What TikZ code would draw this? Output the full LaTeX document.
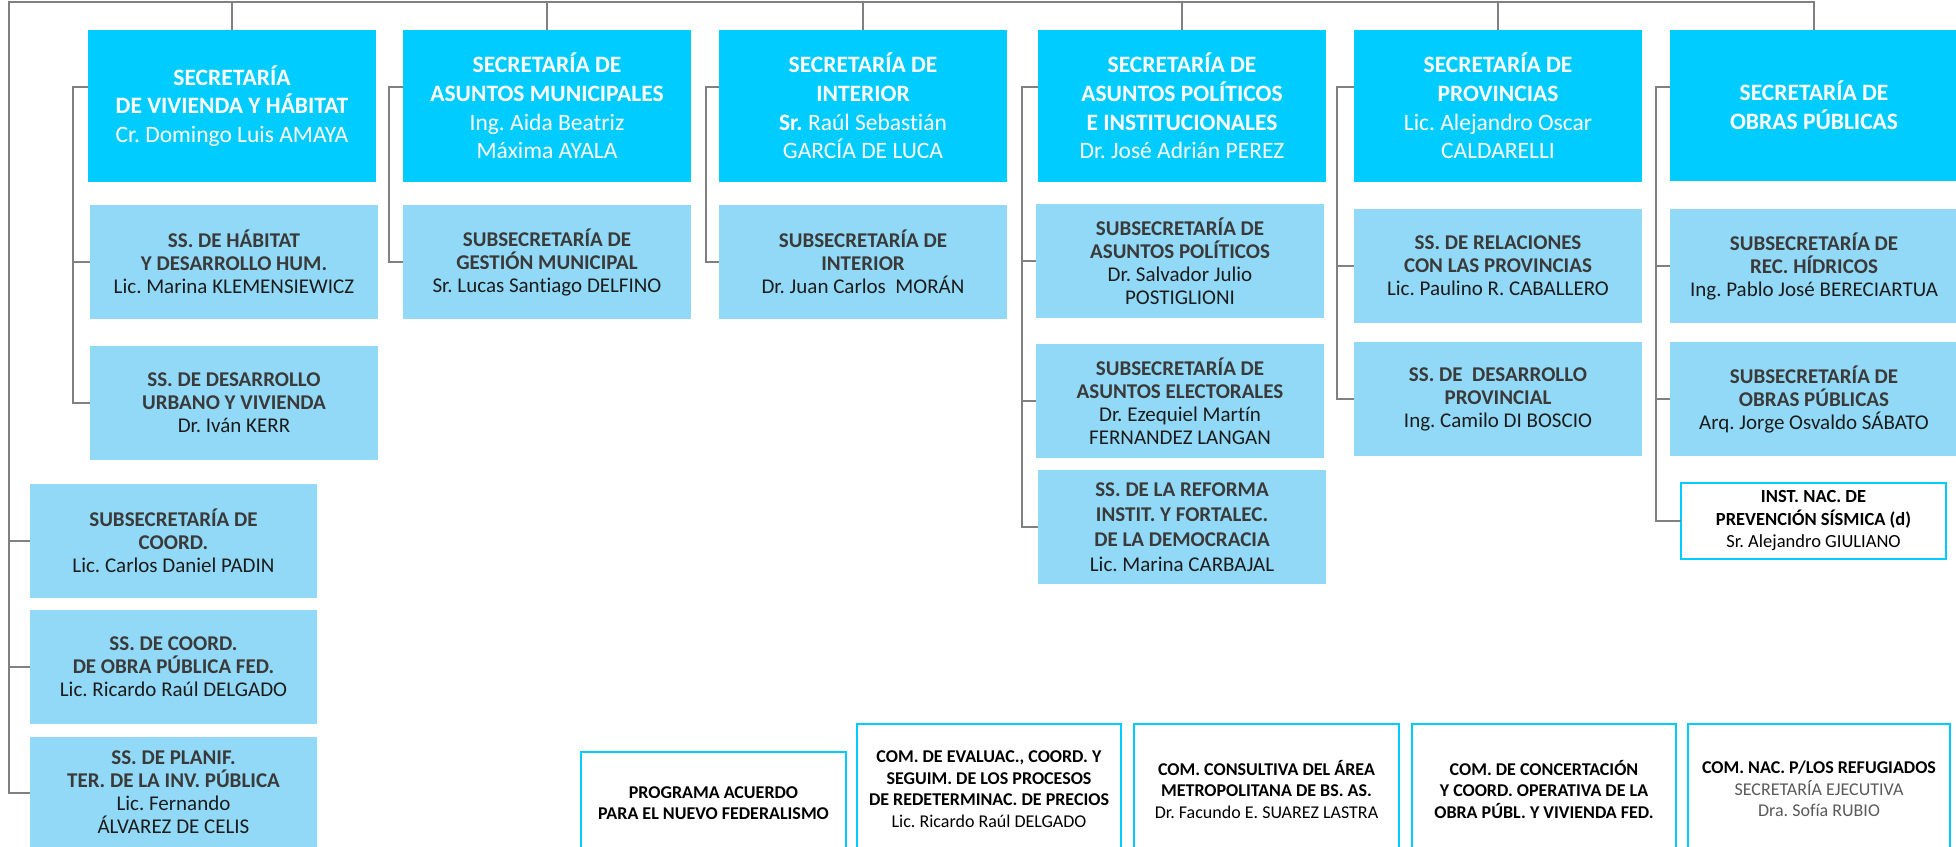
\documentclass[tikz,border=0pt]{standalone}
\usepackage{fontspec}
\setmainfont{Carlito}[Ligatures=NoCommon]
\frenchspacing
\definecolor{topc}{HTML}{00CCFF}
\definecolor{subc}{HTML}{91D9F7}
\definecolor{linec}{HTML}{808080}
\definecolor{titc}{HTML}{3A3A3A}
\definecolor{namec}{HTML}{1C1C1C}
\definecolor{grayt}{HTML}{5A5A5A}
\begin{document}
\begin{tikzpicture}[x=1pt,y=-1pt,
  every node/.style={inner sep=0pt, outer sep=0pt, align=center, anchor=north west},
  topbox/.style={fill=topc, text=white, font=\fontsize{23.5}{28.6}\selectfont,
    minimum width=288, minimum height=152},
  subbox/.style={fill=subc, text=namec, font=\fontsize{21}{23}\selectfont,
    minimum width=288, minimum height=114},
  combox/.style={draw=topc, line width=2.5pt, fill=white, text=black,
    font=\fontsize{18}{21.5}\selectfont, minimum height=130},
  conn/.style={draw=linec, line width=2pt}]
\useasboundingbox (0,0) rectangle (1956,846);

% top row
\node[topbox] (b1) at (88,30) {\textbf{SECRETARÍA}\\\textbf{DE VIVIENDA Y HÁBITAT}\\Cr. Domingo Luis AMAYA};
\node[topbox] (b2) at (403,30) {\textbf{SECRETARÍA DE}\\\textbf{ASUNTOS MUNICIPALES}\\Ing. Aida Beatriz\\Máxima AYALA};
\node[topbox] (b3) at (719,30) {\textbf{SECRETARÍA DE}\\\textbf{INTERIOR}\\\textbf{Sr.} Raúl Sebastián\\GARCÍA DE LUCA};
\node[topbox] (b4) at (1038,30) {\textbf{SECRETARÍA DE}\\\textbf{ASUNTOS POLÍTICOS}\\\textbf{E INSTITUCIONALES}\\Dr. José Adrián PEREZ};
\node[topbox] (b5) at (1354,30) {\textbf{SECRETARÍA DE}\\\textbf{PROVINCIAS}\\Lic. Alejandro Oscar\\CALDARELLI};
\node[topbox, minimum height=151] (b6) at (1670,30) {\textbf{SECRETARÍA DE}\\\textbf{OBRAS PÚBLICAS}};

% sub boxes
\node[subbox] (s11) at (90,205) {\textcolor{titc}{\textbf{SS. DE HÁBITAT}}\\\textcolor{titc}{\textbf{Y DESARROLLO HUM.}}\\Lic. Marina KLEMENSIEWICZ};
\node[subbox] (s12) at (90,346) {\textcolor{titc}{\textbf{SS. DE DESARROLLO}}\\\textcolor{titc}{\textbf{URBANO Y VIVIENDA}}\\Dr. Iván KERR};
\node[subbox] (s21) at (403,205) {\textcolor{titc}{\textbf{SUBSECRETARÍA DE}}\\\textcolor{titc}{\textbf{GESTIÓN MUNICIPAL}}\\Sr. Lucas Santiago DELFINO};
\node[subbox] (s31) at (719,205) {\textcolor{titc}{\textbf{SUBSECRETARÍA DE}}\\\textcolor{titc}{\textbf{INTERIOR}}\\Dr. Juan Carlos~ MORÁN};
\node[subbox] (s41) at (1036,204) {\textcolor{titc}{\textbf{SUBSECRETARÍA DE}}\\\textcolor{titc}{\textbf{ASUNTOS POLÍTICOS}}\\Dr. Salvador Julio\\POSTIGLIONI};
\node[subbox] (s42) at (1036,344) {\textcolor{titc}{\textbf{SUBSECRETARÍA DE}}\\\textcolor{titc}{\textbf{ASUNTOS ELECTORALES}}\\Dr. Ezequiel Martín\\FERNANDEZ LANGAN};
\node[subbox, font=\fontsize{21}{25}\selectfont] (s43) at (1038,470) {\textcolor{titc}{\textbf{SS. DE LA REFORMA}}\\\textcolor{titc}{\textbf{INSTIT. Y FORTALEC.}}\\\textcolor{titc}{\textbf{DE LA DEMOCRACIA}}\\Lic. Marina CARBAJAL};
\node[subbox] (s51) at (1354,209) {\textcolor{titc}{\textbf{SS. DE RELACIONES}}\\\textcolor{titc}{\textbf{CON LAS PROVINCIAS}}\\Lic. Paulino R. CABALLERO};
\node[subbox] (s52) at (1354,342) {\textcolor{titc}{\textbf{SS. DE~ DESARROLLO}}\\\textcolor{titc}{\textbf{PROVINCIAL}}\\Ing. Camilo DI BOSCIO};
\node[subbox] (s61) at (1670,209) {\textcolor{titc}{\textbf{SUBSECRETARÍA DE}}\\\textcolor{titc}{\textbf{REC. HÍDRICOS}}\\Ing. Pablo José BERECIARTUA};
\node[subbox] (s62) at (1670,342) {\textcolor{titc}{\textbf{SUBSECRETARÍA DE}}\\\textcolor{titc}{\textbf{OBRAS PÚBLICAS}}\\Arq. Jorge Osvaldo SÁBATO};
\node[combox, font=\fontsize{18.5}{22.5}\selectfont, minimum width=265, minimum height=76] (s63) at (1681,483) {\textbf{INST. NAC. DE}\\\textbf{PREVENCIÓN SÍSMICA (d)}\\Sr. Alejandro GIULIANO};

% left column
\node[subbox, minimum width=287] (p1) at (30,484) {\textcolor{titc}{\textbf{SUBSECRETARÍA DE}}\\\textcolor{titc}{\textbf{COORD.}}\\Lic. Carlos Daniel PADIN};
\node[subbox, minimum width=287] (p2) at (30,610) {\textcolor{titc}{\textbf{SS. DE COORD.}}\\\textcolor{titc}{\textbf{DE OBRA PÚBLICA FED.}}\\Lic. Ricardo Raúl DELGADO};
\node[subbox, minimum width=287, minimum height=111] (p3) at (30,737) {\textcolor{titc}{\textbf{SS. DE PLANIF.}}\\\textcolor{titc}{\textbf{TER. DE LA INV. PÚBLICA}}\\Lic. Fernando\\ÁLVAREZ DE CELIS};

% committees
\node[combox, minimum width=265, minimum height=102] (c1) at (581,752) {\textbf{PROGRAMA ACUERDO}\\\textbf{PARA EL NUEVO FEDERALISMO}};
\node[combox, minimum width=264] (c2) at (857,724) {\textbf{COM. DE EVALUAC., COORD. Y}\\\textbf{SEGUIM. DE LOS PROCESOS}\\\textbf{DE REDETERMINAC. DE PRECIOS}\\Lic. Ricardo Raúl DELGADO};
\node[combox, minimum width=265] (c3) at (1134,724) {\textbf{COM. CONSULTIVA DEL ÁREA}\\\textbf{METROPOLITANA DE BS. AS.}\\Dr. Facundo E. SUAREZ LASTRA};
\node[combox, minimum width=264] (c4) at (1412,724) {\textbf{COM. DE CONCERTACIÓN}\\\textbf{Y COORD. OPERATIVA DE LA}\\\textbf{OBRA PÚBL. Y VIVIENDA FED.}};
\node[combox, minimum width=262] (c5) at (1688,724) {\textbf{COM. NAC. P/LOS REFUGIADOS}\\\textcolor{grayt}{SECRETARÍA EJECUTIVA}\\\textcolor{grayt}{Dra. Sofía RUBIO}};

% main connectors
\coordinate (tl) at (9,2);
\draw[conn] (b6.north) |- (tl) |- (p3.west);
\draw[conn] (tl |- p1.west) -- (p1.west);
\draw[conn] (tl |- p2.west) -- (p2.west);
\foreach \b in {b1,b2,b3,b4,b5} \draw[conn] (\b.north) -- (\b.north |- tl);

% column connectors
\coordinate (k1) at ([xshift=-15pt,yshift=19pt]b1.west);
\draw[conn] ([yshift=19pt]b1.west) -- (k1) |- (s12.west);
\draw[conn] (k1 |- s11.west) -- (s11.west);
\coordinate (k2) at ([xshift=-14pt,yshift=19pt]b2.west);
\draw[conn] ([yshift=19pt]b2.west) -- (k2) |- (s21.west);
\coordinate (k3) at ([xshift=-13pt,yshift=19pt]b3.west);
\draw[conn] ([yshift=19pt]b3.west) -- (k3) |- (s31.west);
\coordinate (k4) at ([xshift=-16pt,yshift=19pt]b4.west);
\draw[conn] ([yshift=19pt]b4.west) -- (k4) |- (s43.west);
\draw[conn] (k4 |- s41.west) -- (s41.west);
\draw[conn] (k4 |- s42.west) -- (s42.west);
\coordinate (k5) at ([xshift=-17pt,yshift=19pt]b5.west);
\draw[conn] ([yshift=19pt]b5.west) -- (k5) |- (s52.west);
\draw[conn] (k5 |- s51.west) -- (s51.west);
\coordinate (k6) at ([xshift=-14pt,yshift=19pt]b6.west);
\draw[conn] ([yshift=19pt]b6.west) -- (k6) |- (s63.west);
\draw[conn] (k6 |- s61.west) -- (s61.west);
\draw[conn] (k6 |- s62.west) -- (s62.west);
\end{tikzpicture}
\end{document}
